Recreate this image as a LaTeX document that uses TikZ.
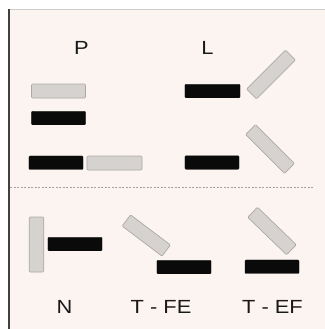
\documentclass[tikz,border=0pt]{standalone}
\usepackage{fontspec}
\setmainfont{Liberation Sans}
\usepackage{graphicx}
\definecolor{bgpink}{HTML}{FCF4F1}
\definecolor{barfill}{HTML}{D6D2D0}
\definecolor{baredge}{HTML}{ADA8A6}
\definecolor{barblack}{HTML}{0A0A0A}
\definecolor{divline}{HTML}{A8A0A0}
\begin{document}
\begin{tikzpicture}[x=1bp,y=-1bp,
  graybar/.style={rectangle, fill=barfill, draw=baredge, line width=0.7bp, rounded corners=1bp,
    minimum width=54bp, minimum height=14bp, inner sep=0pt, outer sep=0pt},
  blackbar/.style={rectangle, fill=barblack, draw=barblack, line width=0.3bp, rounded corners=0.8bp,
    minimum width=54bp, minimum height=13.5bp, inner sep=0pt, outer sep=0pt},
  lbl/.style={anchor=base, inner sep=0pt, font=\fontsize{19bp}{22bp}\selectfont, text=black!90}]
\useasboundingbox (0,0) rectangle (325,329);
% background and frame
\fill[bgpink] (9,9) rectangle (325,329);
\draw[black!20, line width=0.8bp] (9,9) -- (325,9);
\draw[black!75, line width=1.2bp] (9,9) -- (9,329);
% divider
\coordinate (dl) at (10,187.3);
\coordinate (dr) at (313,187.3);
\draw[divline, line width=0.6bp, dash pattern=on 2bp off 1.5bp] (dl) -- (dr);
% labels
\node[lbl] (tP) at (81.5,54.3) {\scalebox{1.15}[1]{P}};
\node[lbl] (tL) at (207.5,54.3) {\scalebox{1.15}[1]{L}};
\node[lbl] (tN) at (64.5,313.3) {\scalebox{1.15}[1]{N}};
\node[lbl] (tFE) at (161,313.3) {\scalebox{1.15}[1]{T - FE}};
\node[lbl] (tEF) at (272.5,313.3) {\scalebox{1.15}[1]{T - EF}};
% P group
\node[graybar] (pg1) at (58.5,91) {};
\node[blackbar] (pb1) at (58.5,118) {};
\node[blackbar] (pb2) at (56,162.7) {};
\node[graybar, minimum width=55bp] (pg2) at (114.5,163) {};
% L group
\node[blackbar, minimum width=55bp] (lb1) at (212.5,91) {};
\node[graybar, minimum width=55bp, rotate=45] (lg1) at (271,74.5) {};
\node[blackbar] (lb2) at (212,162.5) {};
\node[graybar, minimum width=55bp, rotate=-45] (lg2) at (270,149) {};
% N
\node[graybar, minimum width=14.5bp, minimum height=55bp] (ng) at (36.5,244.5) {};
\node[blackbar] (nb) at (75,244) {};
% T-FE
\node[graybar, minimum width=50bp, rotate=-37] (feg) at (146.3,235.5) {};
\node[blackbar] (feb) at (184,267) {};
% T-EF
\node[graybar, minimum width=54bp, rotate=-44] (efg) at (272,231) {};
\node[blackbar] (efb) at (272,266.7) {};
\end{tikzpicture}
\end{document}
